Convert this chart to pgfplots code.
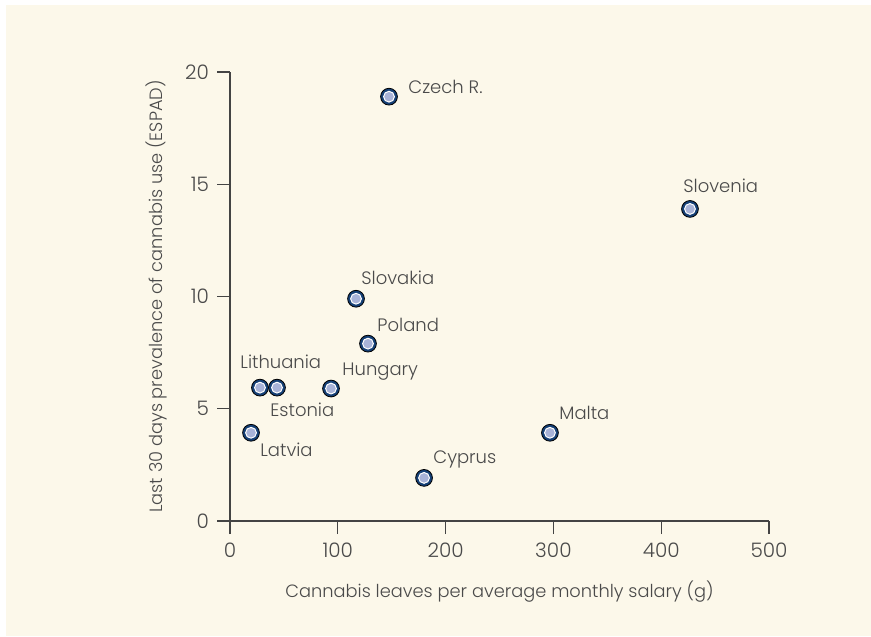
\documentclass[border=0pt]{standalone}
\usepackage{fontspec}
\setmainfont{Poppins}[UprightFont={* Light}]
\usepackage{pgfplots}
\pgfplotsset{compat=1.18}
\definecolor{cream}{HTML}{FCF8EA}
\definecolor{txt}{HTML}{4A4A4A}
\definecolor{axc}{HTML}{444444}
\definecolor{navy}{HTML}{143F75}
\definecolor{mfill}{HTML}{A8B3D8}
\begin{document}
\begin{tikzpicture}[x=1pt,y=1pt]
\useasboundingbox (0,0) rectangle (435.5,318);
\fill[white] (0,0) rectangle (435.5,318);
\fill[cream] (3,0) rectangle (435.5,315.5);
\begin{axis}[
  at={(115pt,57.5pt)}, anchor=south west,
  scale only axis, width=269.5pt, height=224.5pt,
  xmin=0, xmax=500, ymin=0, ymax=20,
  axis x line*=bottom, axis y line*=left,
  axis line style={axc, line width=0.6pt, -},
  tick style={axc, line width=0.6pt},
  tick align=outside, major tick length=6.5pt,
  xtick={0,100,200,300,400,500}, ytick={0,5,10,15,20},
  minor tick num=0,
  tick label style={txt, font=\fontsize{10}{12}\selectfont},
  /pgf/number format/assume math mode=true,
  xticklabel style={yshift=-1pt},
  yticklabel style={xshift=-0.5pt},
  label style={txt, font=\fontsize{8.9}{11}\selectfont},
  xlabel={Cannabis leaves per average monthly salary (g)},
  ylabel={Last 30 days prevalence of cannabis use (ESPAD)},
  xlabel style={yshift=-4.5pt},
  ylabel style={yshift=2pt},
  clip=false,
]
\addplot[only marks, mark=*, mark size=4.2pt, mark options={fill=navy, draw=none}] coordinates {
(147.5,18.9) (426.7,13.9) (116.9,9.9) (128,7.9) (27.8,5.94) (43.6,5.94) (93.7,5.9) (19.5,3.93) (296.8,3.93) (180,1.92)
};
\addplot[only marks, mark=*, mark size=2.7pt, mark options={fill=mfill, draw=white, line width=0.5pt}] coordinates {
(147.5,18.9) (426.7,13.9) (116.9,9.9) (128,7.9) (27.8,5.94) (43.6,5.94) (93.7,5.9) (19.5,3.93) (296.8,3.93) (180,1.92)
};
\begin{scope}[every node/.style={anchor=west, inner sep=0pt, txt, font=\fontsize{9}{11}\selectfont}]
\node at (axis cs:165.1,19.33) {Czech R.};
\node at (axis cs:420.2,14.92) {Slovenia};
\node at (axis cs:121.5,10.82) {Slovakia};
\node at (axis cs:136.4,8.73) {Poland};
\node at (axis cs:9.3,7.08) {Lithuania};
\node at (axis cs:103.9,6.64) {Hungary};
\node at (axis cs:37.1,4.94) {Estonia};
\node at (axis cs:27.8,3.16) {Latvia};
\node at (axis cs:305.2,4.81) {Malta};
\node at (axis cs:188.3,2.72) {Cyprus};
\end{scope}
\end{axis}
\end{tikzpicture}
\end{document}
